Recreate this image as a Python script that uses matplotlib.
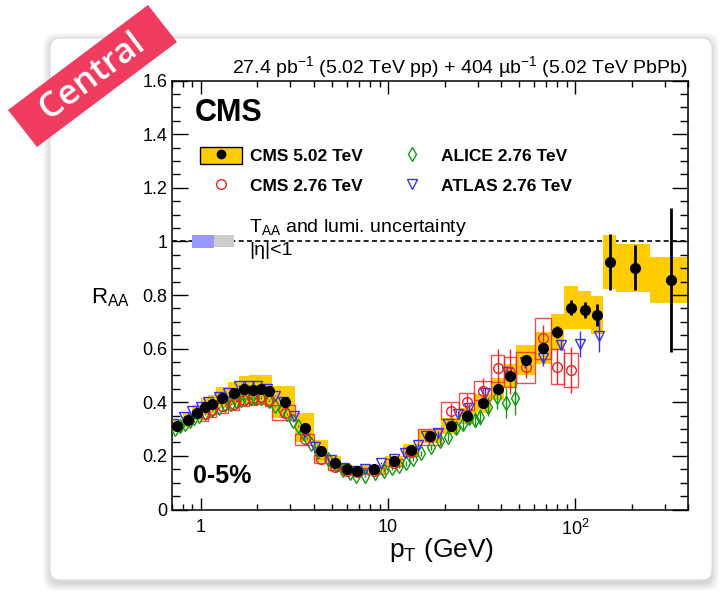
import numpy as np
import matplotlib.pyplot as plt
from matplotlib.patches import FancyBboxPatch, Polygon, Patch
from matplotlib.lines import Line2D
from matplotlib.transforms import IdentityTransform
from matplotlib.ticker import (LogLocator, NullFormatter, FixedLocator,
                               FuncFormatter, MultipleLocator)

plt.rcParams['font.family'] = ['Liberation Sans', 'DejaVu Sans']
plt.rcParams['mathtext.fontset'] = 'custom'
plt.rcParams['mathtext.rm'] = 'Liberation Sans'
plt.rcParams['mathtext.it'] = 'Liberation Sans:italic'
plt.rcParams['mathtext.bf'] = 'Liberation Sans:bold'

# CMS 5.02 TeV (bin edges, RAA, stat, syst)
edges_502 = [0.7, 0.8, 0.9, 1.0, 1.1, 1.2, 1.4, 1.6, 1.8, 2.0, 2.2, 2.4, 3.2, 4.0,
             4.8, 5.6, 6.4, 7.2, 9.6, 12.0, 14.4, 19.2, 24.0, 28.8, 35.2, 41.6,
             48.0, 60.8, 73.6, 86.4, 103.6, 120.8, 140, 165, 250, 400]
raa_502 = [0.312, 0.334, 0.361, 0.384, 0.394, 0.417, 0.433, 0.448, 0.446, 0.448,
           0.442, 0.400, 0.305, 0.219, 0.173, 0.151, 0.142, 0.150, 0.180, 0.222,
           0.274, 0.313, 0.349, 0.396, 0.449, 0.498, 0.558, 0.603, 0.662, 0.753,
           0.744, 0.725, 0.922, 0.902, 0.856]
stat_502 = [0.002, 0.002, 0.002, 0.002, 0.002, 0.002, 0.002, 0.002, 0.002, 0.002,
            0.002, 0.002, 0.002, 0.002, 0.002, 0.002, 0.002, 0.002, 0.003, 0.004,
            0.005, 0.006, 0.008, 0.009, 0.011, 0.013, 0.014, 0.018, 0.022, 0.028,
            0.030, 0.040, 0.105, 0.085, 0.270]
sys_502 = [0.022, 0.025, 0.028, 0.030, 0.033, 0.040, 0.044, 0.050, 0.055, 0.055,
           0.060, 0.060, 0.055, 0.040, 0.027, 0.020, 0.020, 0.017, 0.020, 0.022,
           0.025, 0.030, 0.030, 0.035, 0.040, 0.045, 0.055, 0.060, 0.067, 0.080,
           0.072, 0.072, 0.100, 0.090, 0.087]

# CMS 2.76 TeV
edges_276 = [1.0, 1.1, 1.2, 1.4, 1.6, 1.8, 2.0, 2.2, 2.4, 3.2, 4.0, 4.8, 5.6, 6.4,
             7.2, 9.6, 12.0, 14.4, 19.2, 24.0, 28.8, 35.2, 41.6, 48.0, 60.8, 73.6,
             86.4, 103.6]
raa_276 = [0.355, 0.370, 0.385, 0.395, 0.410, 0.415, 0.420, 0.410, 0.361, 0.262,
           0.190, 0.160, 0.145, 0.138, 0.145, 0.175, 0.215, 0.270, 0.369, 0.402,
           0.443, 0.527, 0.514, 0.530, 0.638, 0.533, 0.520]
stat_276 = [0.002, 0.002, 0.002, 0.002, 0.002, 0.002, 0.002, 0.002, 0.002, 0.002,
            0.002, 0.002, 0.002, 0.002, 0.003, 0.004, 0.006, 0.010, 0.030, 0.030,
            0.048, 0.070, 0.085, 0.040, 0.050, 0.065, 0.087]
sys_276 = [0.025, 0.025, 0.025, 0.025, 0.025, 0.025, 0.025, 0.025, 0.027, 0.020,
           0.015, 0.012, 0.011, 0.011, 0.011, 0.013, 0.016, 0.030, 0.031, 0.031,
           0.036, 0.050, 0.056, 0.059, 0.076, 0.065, 0.063]

# ALICE 2.76 TeV
pt_alice = [0.725, 0.775, 0.825, 0.875, 0.925, 0.975, 1.05, 1.15, 1.25, 1.35, 1.45,
            1.55, 1.65, 1.75, 1.85, 1.95, 2.1, 2.3, 2.5, 2.7, 2.9, 3.1, 3.3, 3.5,
            3.7, 3.9, 4.25, 4.75, 5.25, 5.75, 6.25, 6.75, 7.5, 8.5, 9.5, 10.5, 11.5,
            12.5, 13.5, 15.0, 17.0, 19.0, 21.0, 23.0, 25.0, 27.0, 29.0, 31.0, 34.0,
            38.0, 42.5, 47.5]
raa_alice = [0.300, 0.310, 0.320, 0.330, 0.340, 0.350, 0.360, 0.370, 0.380, 0.390,
             0.395, 0.405, 0.410, 0.415, 0.415, 0.415, 0.415, 0.405, 0.385, 0.370,
             0.355, 0.330, 0.310, 0.285, 0.265, 0.245, 0.215, 0.187, 0.165, 0.147,
             0.135, 0.124, 0.126, 0.135, 0.145, 0.155, 0.163, 0.172, 0.190, 0.210,
             0.234, 0.255, 0.272, 0.303, 0.320, 0.340, 0.335, 0.344, 0.383, 0.421,
             0.396, 0.417]
err_alice = [0.004, 0.004, 0.004, 0.004, 0.004, 0.004, 0.004, 0.004, 0.004, 0.004,
             0.004, 0.004, 0.004, 0.004, 0.004, 0.004, 0.004, 0.004, 0.004, 0.004,
             0.004, 0.004, 0.004, 0.004, 0.004, 0.004, 0.004, 0.004, 0.004, 0.004,
             0.004, 0.004, 0.004, 0.005, 0.006, 0.007, 0.008, 0.009, 0.010, 0.010,
             0.012, 0.015, 0.018, 0.020, 0.022, 0.025, 0.028, 0.030, 0.035, 0.045,
             0.056, 0.065]

# ATLAS 2.76 TeV
pt_atlas = [0.71, 0.81, 0.9, 1.0, 1.1, 1.25, 1.4, 1.6, 1.8, 2.0, 2.25, 2.5, 2.75,
            3.13, 3.6, 4.05, 4.97, 5.8, 6.6, 7.5, 9.2, 10.7, 12.3, 14.5, 16.0, 18.4,
            21.0, 23.5, 27.0, 33.0, 43.0, 53.5, 67.0, 84.0, 106.0, 133.0]
raa_atlas = [0.320, 0.344, 0.367, 0.383, 0.400, 0.420, 0.436, 0.460, 0.462, 0.460,
             0.450, 0.425, 0.400, 0.350, 0.290, 0.234, 0.185, 0.155, 0.145, 0.150,
             0.175, 0.190, 0.212, 0.240, 0.274, 0.284, 0.320, 0.356, 0.380, 0.436,
             0.514, 0.551, 0.566, 0.614, 0.617, 0.647]
err_atlas = [0.003, 0.003, 0.003, 0.003, 0.003, 0.003, 0.003, 0.003, 0.003, 0.003,
             0.003, 0.003, 0.003, 0.003, 0.003, 0.003, 0.003, 0.003, 0.003, 0.003,
             0.004, 0.005, 0.006, 0.007, 0.008, 0.009, 0.010, 0.012, 0.014, 0.016,
             0.020, 0.025, 0.030, 0.020, 0.050, 0.060]

taa_unc = 0.023
lumi_unc = 0.022

W, H = 720, 612
fig = plt.figure(figsize=(W / 100, H / 100), dpi=100)

# card with soft shadow
for k in range(8):
    fig.add_artist(FancyBboxPatch((50 - k, 30 - k - 2), 662 + 2 * k, 544 + 2 * k,
                                  boxstyle='round,pad=0,rounding_size=12',
                                  transform=IdentityTransform(), fc='black',
                                  ec='none', alpha=0.018, zorder=-3))
fig.add_artist(FancyBboxPatch((50, 32), 662, 542, boxstyle='round,pad=0,rounding_size=10',
                              transform=IdentityTransform(), fc='white', ec='#dddddd',
                              lw=0.8, zorder=-2))


def px(x, y):
    # pixel position (image coords, y down) -> axes fraction
    return (x - 171.7) / 516.6, (509.5 - y) / 429.0


ax = fig.add_axes([171.7 / W, 1 - 509.5 / H, 516.6 / W, 429.0 / H])
ax.set_xscale('log')
ax.set_xlim(0.7, 400)
ax.set_ylim(0, 1.6)

lo = np.array(edges_502[:-1])
hi = np.array(edges_502[1:])
r = np.array(raa_502)
s = np.array(sys_502)
ax.bar(lo, 2 * s, width=hi - lo, bottom=r - s, align='edge', color='#ffcc00',
       lw=0, zorder=1)

lo2 = np.array(edges_276[:-1])
hi2 = np.array(edges_276[1:])
r2 = np.array(raa_276)
s2 = np.array(sys_276)
ax.bar(lo2, 2 * s2, width=hi2 - lo2, bottom=r2 - s2, align='edge', fill=False,
       edgecolor='#ee2222', lw=1.0, alpha=0.8, zorder=2)

ax.axhline(1, color='black', ls=(0, (3, 2)), lw=1.2, zorder=0.5)

ax.errorbar(pt_alice, raa_alice, yerr=err_alice, fmt='d', ms=7, mfc='none',
            mec='#119911', mew=1, ecolor='#119911', elinewidth=1, zorder=3)
ax.errorbar(pt_atlas, raa_atlas, yerr=err_atlas, fmt='v', ms=7, mfc='none',
            mec='#3333ee', mew=1, ecolor='#3333ee', elinewidth=1, zorder=3)
ax.errorbar((lo2 + hi2) / 2, r2, yerr=stat_276, fmt='o', ms=7, mfc='none',
            mec='#ee2222', mew=1, ecolor='#ee2222', elinewidth=1, zorder=4)
ax.errorbar((lo + hi) / 2, r, yerr=stat_502, fmt='o', ms=7, color='black',
            elinewidth=2, zorder=5)

# normalisation uncertainty boxes at unity
ax.bar([0.9], [2 * taa_unc], width=[0.27], bottom=[1 - taa_unc], align='edge',
       color='#9999ff', lw=0, zorder=1)
ax.bar([1.17], [2 * lumi_unc], width=[0.33], bottom=[1 - lumi_unc], align='edge',
       color='#cccccc', lw=0, zorder=1)

# axes styling
ax.xaxis.set_major_locator(FixedLocator([1, 10, 100]))
ax.xaxis.set_major_formatter(FuncFormatter(
    lambda v, p: {1: '1', 10: '10', 100: '$10^{2}$'}.get(int(round(v)), '')))
ax.xaxis.set_minor_locator(LogLocator(base=10, subs=np.arange(2, 10)))
ax.xaxis.set_minor_formatter(NullFormatter())
ax.yaxis.set_major_locator(MultipleLocator(0.2))
ax.yaxis.set_minor_locator(MultipleLocator(0.05))
ax.yaxis.set_major_formatter(FuncFormatter(
    lambda v, p: '%g' % round(v, 1)))
ax.tick_params(which='both', direction='in', top=True, right=True, width=1,
               colors='black', labelsize=13)
ax.tick_params(axis='x', which='major', length=9, pad=7)
ax.tick_params(axis='x', which='minor', length=4.5)
ax.tick_params(axis='y', which='major', length=11.5, pad=3)
ax.tick_params(axis='y', which='minor', length=5.8)
for sp in ax.spines.values():
    sp.set_linewidth(1.1)

# legend
handles = [(Patch(facecolor='#ffcc00', edgecolor='black', lw=1),
            Line2D([], [], marker='o', color='black', ls='none', ms=6)),
           Line2D([], [], marker='o', mfc='none', mec='#ee2222', ls='none', ms=7),
           Line2D([], [], marker='d', mfc='none', mec='#119911', ls='none', ms=7),
           Line2D([], [], marker='v', mfc='none', mec='#3333ee', ls='none', ms=7)]
labels = ['CMS 5.02 TeV', 'CMS 2.76 TeV', 'ALICE 2.76 TeV', 'ATLAS 2.76 TeV']
ax.legend(handles, labels, ncol=2, loc='upper left', bbox_to_anchor=px(200, 147),
          frameon=False, borderpad=0, borderaxespad=0, handlelength=2.4,
          handleheight=1.15, handletextpad=0.5, labelspacing=0.7,
          columnspacing=1.6, prop=dict(weight='bold', size=12.5))

ax.text(*px(195, 121), 'CMS', fontsize=22, fontweight='bold', va='baseline',
        transform=ax.transAxes)
ax.text(*px(192.7, 482.7), '0-5%', fontsize=18, fontweight='bold', va='baseline',
        transform=ax.transAxes)
ax.text(*px(249, 232), r'T$_{\mathrm{AA}}$ and lumi. uncertainty', fontsize=14,
        va='baseline', transform=ax.transAxes)
ax.text(*px(249, 255), '|η|<1', fontsize=14, va='baseline',
        transform=ax.transAxes)
ax.text(1.0, px(0, 73.3)[1], '27.4 pb$^{-1}$ (5.02 TeV pp) + 404 µb$^{-1}$ (5.02 TeV PbPb)',
        fontsize=14, ha='right', va='baseline', transform=ax.transAxes)
ax.text(*px(441.5, 557), r'p$_{\mathrm{T}}$ (GeV)', fontsize=19, ha='center',
        va='baseline', transform=ax.transAxes)
ax.text(*px(110, 298), r'R$_{\mathrm{AA}}$', fontsize=16, ha='center', va='center',
        transform=ax.transAxes)

# "Central" ribbon
rib = [(8, 110), (148, 5), (177, 42), (37, 147)]
fig.add_artist(Polygon([(x, H - y) for x, y in rib], closed=True,
                       transform=IdentityTransform(), fc='#f03c5e', ec='none',
                       zorder=10))
fig.text(92.5 / W, 1 - 76 / H, 'Central', fontsize=25, color='white',
         family='Open Sans', fontweight='semibold', rotation=36.87,
         ha='center', va='center', rotation_mode='anchor', zorder=11)

fig.savefig('out.png', dpi=100)
